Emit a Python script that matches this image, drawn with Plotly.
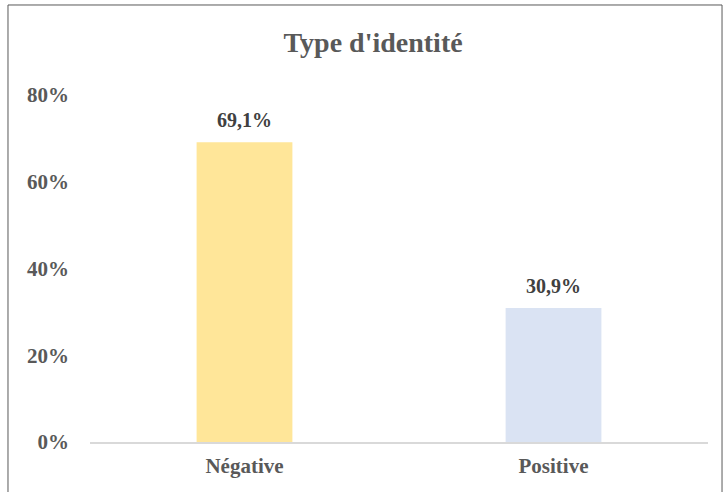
import plotly.graph_objects as go

categories = ["Négative", "Positive"]
shares = [0.691, 0.309]
bar_colors = ["#FFE699", "#DAE3F3"]

fig = go.Figure(
    go.Bar(
        x=categories,
        y=shares,
        marker=dict(color=bar_colors, line=dict(width=0)),
        hoverinfo="skip",
    )
)

# value labels sitting a bit above each bar
for cat, val in zip(categories, shares):
    fig.add_annotation(
        x=cat,
        y=val,
        text="<b>" + f"{val * 100:.1f}%".replace(".", ",") + "</b>",
        showarrow=False,
        yanchor="bottom",
        yshift=9,
        font=dict(family="Liberation Serif", size=20, color="#404040"),
    )

fig.update_layout(
    width=723,
    height=492,
    margin=dict(l=90, r=15, t=95, b=50),
    paper_bgcolor="white",
    plot_bgcolor="white",
    bargap=0.69,
    showlegend=False,
    font=dict(family="Liberation Serif", color="#595959"),
    title=dict(
        text="<b>Type d'identité</b>",
        x=0.516,
        xref="container",
        xanchor="center",
        y=0.915,
        yref="container",
        yanchor="middle",
        font=dict(family="Liberation Serif", size=28, color="#595959"),
    ),
)

fig.update_yaxes(
    range=[0, 0.8],
    dtick=0.2,
    tickformat=".0%",
    showgrid=False,
    zeroline=False,
    showline=False,
    ticks="",
    automargin=False,
    tickfont=dict(size=21, family="Liberation Serif", color="#595959", weight="bold"),
    ticklabelstandoff=20,
)

fig.update_xaxes(
    showline=True,
    linecolor="#D9D9D9",
    linewidth=1.5,
    ticks="",
    automargin=False,
    tickfont=dict(size=21, family="Liberation Serif", color="#595959", weight="bold"),
    ticklabelstandoff=4,
)

# outer chart border
fig.add_shape(
    type="rect",
    xref="paper",
    yref="paper",
    x0=-0.1327,
    x1=1.0227,
    y0=-0.16,
    y1=1.2594,
    line=dict(color="#595959", width=1),
    layer="below",
)

# drop the default page margin so the figure sits at the window origin
fig.write_html(
    "out.html",
    config={"displayModeBar": False},
    post_script="document.body.style.margin='0';",
)
